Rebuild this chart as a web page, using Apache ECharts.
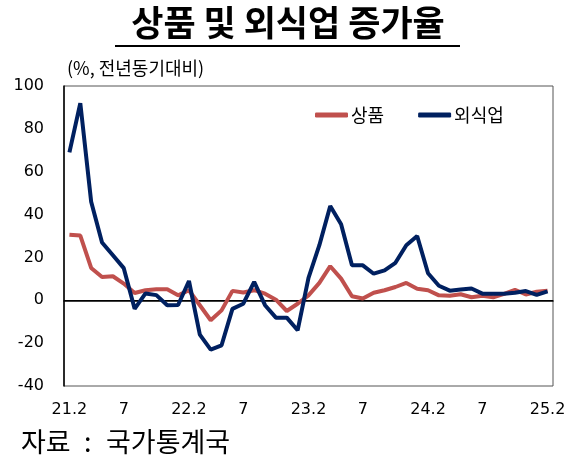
<!DOCTYPE html>
<html>
<head>
<meta charset="utf-8">
<script src="https://cdn.jsdelivr.net/npm/echarts@6/dist/echarts.min.js"></script>
<style>
  html, body { margin: 0; padding: 0; background: #fff; }
  #chart { width: 576px; height: 460px; }
</style>
</head>
<body>
<div id="chart"></div>
<script>
// 1~2월 합산 기준 월별 (21.2 ~ 25.2)
const months = [
  '21.2','3','4','5','6','7','8','9','10','11','12',
  '22.2','3','4','5','6','7','8','9','10','11','12',
  '23.2','3','4','5','6','7','8','9','10','11','12',
  '24.2','3','4','5','6','7','8','9','10','11','12',
  '25.2'
]
const shownLabels = [0, 5, 11, 16, 22, 27, 33, 38, 44]

const goods = [
  30.6, 30.2, 15.1, 10.9, 11.2, 7.8, 3.4, 4.7, 5.1, 5.1, 2.3,
  4.7, -2.3, -9.3, -4.7, 4.4, 3.6, 4.7, 3.1, 0.3, -5.0, -1.6,
  2.3, 8.1, 15.9, 10.1, 1.9, 0.8, 3.5, 4.7, 6.2, 8.1, 5.4,
  4.7, 2.3, 2.1, 2.8, 1.4, 2.1, 1.4, 3.0, 4.9, 2.7, 4.0,
  4.5
]
const dining = [
  69, 92, 46, 27, 21, 15, -4, 3.2, 2.4, -2.3, -2.2,
  9, -16, -23, -21, -4, -1.6, 8.6, -2.3, -8.1, -8.1, -14,
  10.5, 25.7, 44, 35.5, 16.3, 16.3, 12.4, 14, 17.5, 25.7, 30,
  12.6, 6.8, 4.5, 5, 5.5, 3.1, 3.1, 3.1, 3.5, 4.3, 2.5,
  4.2
]

const numFont = 'DejaVu Sans'
const krFont = 'Noto Sans CJK KR'
const srcFont = '27px "Noto Sans CJK KR"'

const myChart = echarts.init(document.getElementById('chart'))
const option = {
  animation: false,
  backgroundColor: '#fff',
  title: {
    text: '상품 및 외식업 증가율',
    left: 'center',
    top: 0,
    textStyle: { fontFamily: krFont, fontSize: 35, fontWeight: 'bold', color: '#000' }
  },
  graphic: [
    {
      type: 'line',
      shape: { x1: 115, y1: 46, x2: 460, y2: 46 },
      style: { stroke: '#000', lineWidth: 2 }
    },
    {
      type: 'text',
      left: 67,
      top: 59,
      style: { text: '(%, 전년동기대비)', font: '18px "Noto Sans CJK KR"', fill: '#000' }
    },
    // 자료 : 국가통계국 (원본처럼 콜론 앞뒤 간격을 넓게)
    { type: 'text', left: 21, top: 428, style: { text: '자료', font: srcFont, fill: '#000' } },
    { type: 'text', left: 84, top: 428, style: { text: ':', font: srcFont, fill: '#000' } },
    { type: 'text', left: 106, top: 428, style: { text: '국가통계국', font: srcFont, fill: '#000' } }
  ],
  legend: {
    left: 315,
    top: 106,
    padding: 0,
    itemWidth: 33,
    itemHeight: 5,
    itemGap: 34,
    icon: 'roundRect',
    textStyle: { fontFamily: krFont, fontSize: 18, color: '#000', padding: [0, 0, 0, -2] },
    data: ['상품', '외식업']
  },
  grid: {
    left: 64,
    right: 23,
    top: 86,
    bottom: 74,
    show: true,
    borderColor: '#555',
    borderWidth: 1
  },
  xAxis: {
    type: 'category',
    data: months,
    boundaryGap: true,
    axisLine: { show: true, lineStyle: { color: '#000', width: 1.5 } },
    axisTick: { show: false },
    axisLabel: {
      interval: (i) => shownLabels.includes(i),
      margin: 16,
      fontFamily: numFont,
      fontSize: 16,
      color: '#000'
    },
    splitLine: { show: false }
  },
  yAxis: {
    type: 'value',
    min: -40,
    max: 100,
    interval: 20,
    axisLine: { show: true, lineStyle: { color: '#000', width: 1.5 } },
    axisTick: { show: false },
    axisLabel: { margin: 20, fontFamily: numFont, fontSize: 16, color: '#000' },
    splitLine: { show: false }
  },
  series: [
    {
      name: '상품',
      type: 'line',
      data: goods,
      symbol: 'none',
      color: '#C0504D',
      lineStyle: { width: 4, color: '#C0504D' },
      z: 2,
      markLine: {
        silent: true,
        symbol: 'none',
        label: { show: false },
        lineStyle: { color: '#000', width: 1, type: 'solid' },
        data: [{ yAxis: 0 }],
        z: 1
      }
    },
    {
      name: '외식업',
      type: 'line',
      data: dining,
      symbol: 'none',
      color: '#002060',
      lineStyle: { width: 4, color: '#002060' },
      z: 3
    }
  ]
}
myChart.setOption(option)
</script>
</body>
</html>
